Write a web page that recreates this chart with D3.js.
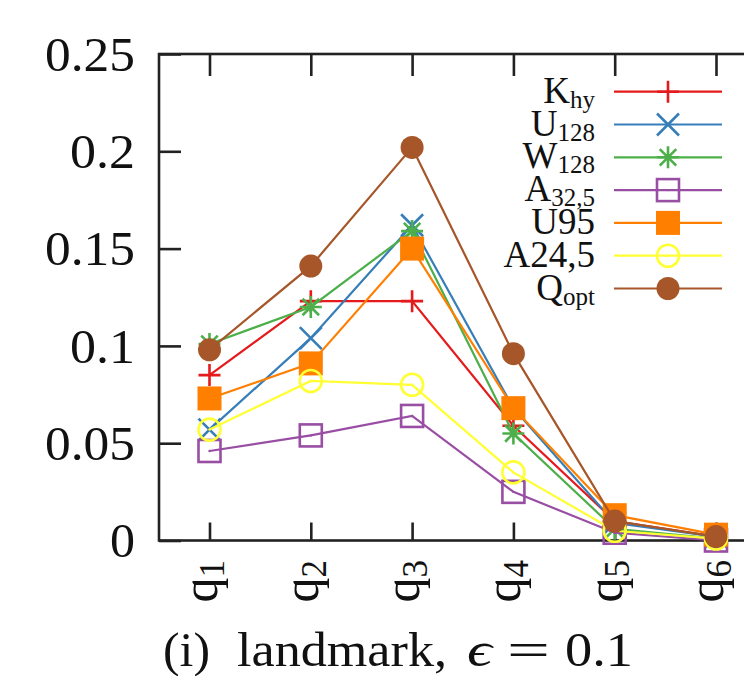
<!DOCTYPE html>
<html><head><meta charset="utf-8">
<script src="https://cdn.jsdelivr.net/npm/d3@7"></script>
<style>body{margin:0;background:#fff}svg{display:block}</style>
</head><body>
<svg id="c" width="744" height="676"></svg>
<script>
const categories = ["q1","q2","q3","q4","q5","q6"];
const yTicks = [0, 0.05, 0.1, 0.15, 0.2, 0.25];
const yTickLabels = ["0","0.05","0.1","0.15","0.2","0.25"];
const K_hy  = [0.085, 0.123, 0.123, 0.059, 0.010, 0.002];
const U_128 = [0.057, 0.104, 0.162, 0.068, 0.009, 0.002];
const W_128 = [0.101, 0.120, 0.159, 0.055, 0.006, 0.001];
const A_32_5 = [0.046, 0.054, 0.064, 0.025, 0.004, 0.000];
const U95   = [0.073, 0.091, 0.150, 0.068, 0.013, 0.003];
const A24_5 = [0.057, 0.082, 0.080, 0.035, 0.005, 0.001];
const Q_opt = [0.098, 0.141, 0.202, 0.096, 0.010, 0.002];
const seriesNames = [["K","hy"],["U","128"],["W","128"],["A","32,5"],["U95",""],["A24,5",""],["Q","opt"]];
const seriesValues = [K_hy, U_128, W_128, A_32_5, U95, A24_5, Q_opt];
const seriesColors = ["#e41a1c","#377eb8","#4daf4a","#984ea3","#ff7f00","#ffff33","#a65628"];
const seriesMarkers = ["plus","cross","star","box","fbox","circle","fcircle"];
const titleParts = ["(i)", "landmark,", "\u03F5", "=", "0.1"];

(function(){
const svg = d3.select("#c");
const pL = 159, pR = 766, pT = 54, pB = 540.5;
const x = d3.scalePoint().domain(categories).range([209.5, 716]);
const y = d3.scaleLinear().domain([0, 0.25]).range([pB, pT]);
const FONT = "'Liberation Serif','DejaVu Serif',serif";
const labelW = {1: 25, 3: 65, 4: 90};

svg.append("rect").attr("x", pL).attr("y", pT).attr("width", pR-pL).attr("height", pB-pT)
  .attr("fill","none").attr("stroke","#222").attr("stroke-width",2.6);

const ya = svg.append("g").attr("transform",`translate(${pL},0)`)
  .call(d3.axisLeft(y).tickValues(yTicks).tickFormat((d,i)=>yTickLabels[i]).tickSize(-22).tickSizeOuter(0).tickPadding(24));
ya.select(".domain").remove();
ya.selectAll("line").attr("stroke","#222").attr("stroke-width",2.6);
ya.selectAll("text").attr("font-family",FONT).attr("font-size",48).attr("fill","#111").attr("dy","0.34em")
  .attr("textLength", (d,i)=> labelW[yTickLabels[i].length])
  .attr("lengthAdjust","spacingAndGlyphs");
const yr = svg.append("g").attr("transform",`translate(${pR},0)`)
  .call(d3.axisRight(y).tickValues(yTicks).tickSize(-22).tickSizeOuter(0).tickFormat(""));
yr.select(".domain").remove();
yr.selectAll("line").attr("stroke","#222").attr("stroke-width",2.6);

const xa = svg.append("g").attr("transform",`translate(0,${pB})`)
  .call(d3.axisBottom(x).tickSize(-18).tickSizeOuter(0).tickFormat(""));
xa.select(".domain").remove();
xa.selectAll("line").attr("stroke","#222").attr("stroke-width",2.6);
const xt = svg.append("g").attr("transform",`translate(0,${pT})`)
  .call(d3.axisTop(x).tickSize(-22).tickSizeOuter(0).tickFormat(""));
xt.select(".domain").remove();
xt.selectAll("line").attr("stroke","#222").attr("stroke-width",2.6);

categories.forEach(c => {
  const t = svg.append("text").attr("transform",`translate(${x(c)+7},560) rotate(-90)`)
    .attr("text-anchor","end").attr("font-family",FONT).attr("font-size",50).attr("fill","#111");
  t.append("tspan").text(c[0]);
  t.append("tspan").attr("font-size",35).attr("dy","0.22em").text(c.slice(1));
});

function marker(g, type, color, cx, cy) {
  const s = 11;
  if (type === "plus") {
    g.append("path").attr("d",`M${cx-s},${cy}H${cx+s}M${cx},${cy-s}V${cy+s}`).attr("stroke",color).attr("stroke-width",2.6).attr("fill","none");
  } else if (type === "cross") {
    g.append("path").attr("d",`M${cx-s},${cy-s}L${cx+s},${cy+s}M${cx-s},${cy+s}L${cx+s},${cy-s}`).attr("stroke",color).attr("stroke-width",2.6).attr("fill","none");
  } else if (type === "star") {
    const d = s*0.75;
    g.append("path").attr("d",`M${cx-s},${cy}H${cx+s}M${cx},${cy-s}V${cy+s}M${cx-d},${cy-d}L${cx+d},${cy+d}M${cx-d},${cy+d}L${cx+d},${cy-d}`).attr("stroke",color).attr("stroke-width",2.6).attr("fill","none");
  } else if (type === "box") {
    g.append("rect").attr("x",cx-s).attr("y",cy-s).attr("width",2*s).attr("height",2*s).attr("fill","none").attr("stroke",color).attr("stroke-width",2.6);
    g.append("circle").attr("cx",cx).attr("cy",cy).attr("r",1.2).attr("fill",color);
  } else if (type === "fbox") {
    g.append("rect").attr("x",cx-12).attr("y",cy-12).attr("width",24).attr("height",24).attr("fill",color);
  } else if (type === "circle") {
    g.append("circle").attr("cx",cx).attr("cy",cy).attr("r",s).attr("fill","none").attr("stroke",color).attr("stroke-width",2.6);
    g.append("circle").attr("cx",cx).attr("cy",cy).attr("r",1.2).attr("fill",color);
  } else if (type === "fcircle") {
    g.append("circle").attr("cx",cx).attr("cy",cy).attr("r",11.5).attr("fill",color);
  }
}

const plot = svg.append("g");
const line = d3.line().x((d,i)=>x(categories[i])).y(d=>y(d));
seriesValues.forEach((vals, k) => {
  const g = plot.append("g");
  g.append("path").attr("d", line(vals)).attr("fill","none").attr("stroke",seriesColors[k]).attr("stroke-width",2.2);
  vals.forEach((v,i) => marker(g, seriesMarkers[k], seriesColors[k], x(categories[i]), y(v)));
});

const legRows = d3.scaleLinear().domain([0, 6]).range([91.7, 288.5]);
seriesNames.forEach((nm, k) => {
  const ry = legRows(k);
  const t = svg.append("text").attr("x",595).attr("y",ry+11).attr("text-anchor","end")
    .attr("font-family",FONT).attr("font-size",37).attr("fill","#111");
  t.append("tspan").text(nm[0]);
  if (nm[1]) t.append("tspan").attr("font-size",25).attr("dy","0.2em").text(nm[1]);
  const g = svg.append("g");
  g.append("line").attr("x1",614).attr("x2",722).attr("y1",ry).attr("y2",ry).attr("stroke",seriesColors[k]).attr("stroke-width",2.2);
  marker(g, seriesMarkers[k], seriesColors[k], 668, ry);
});

const tx = [163, 237, 467, 507, 565];
const tw = [47, 210, 25, 43, 68];
titleParts.forEach((p, i) => {
  svg.append("text").attr("x", tx[i]).attr("y", 666).attr("font-family",FONT).attr("font-size",49)
    .attr("fill","#111").attr("font-style", i===2 ? "italic" : null)
    .attr("textLength", tw[i]).attr("lengthAdjust","spacingAndGlyphs").text(p);
});
})();
</script>
</body></html>
